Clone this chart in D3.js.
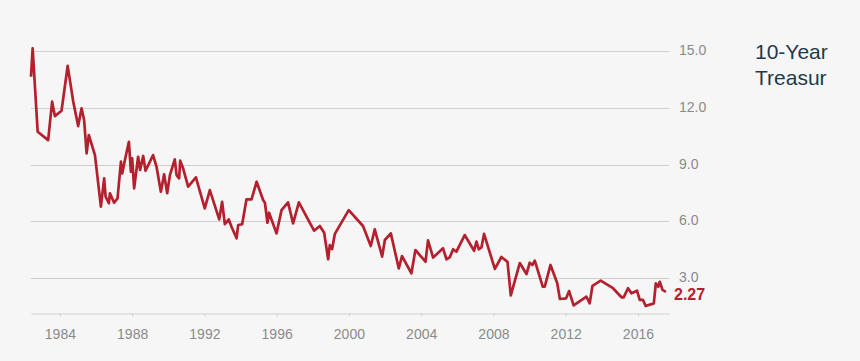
<!DOCTYPE html>
<html>
<head>
<meta charset="utf-8">
<script src="https://cdn.jsdelivr.net/npm/d3@7"></script>
<style>
  html, body { margin: 0; padding: 0; background: #f6f6f6; }
  svg { display: block; }
</style>
</head>
<body>
<svg id="chart" width="860" height="361"></svg>
<script>
const years = [
  1982.40, 1982.49, 1982.77, 1983.35, 1983.57, 1983.72, 1984.09, 1984.43, 1984.74, 1985.01,
  1985.20, 1985.34, 1985.48, 1985.60, 1985.94, 1986.27, 1986.45, 1986.53, 1986.71, 1986.77,
  1987.00, 1987.19, 1987.38, 1987.45, 1987.60, 1987.82, 1987.93, 1988.00, 1988.11, 1988.33,
  1988.44, 1988.61, 1988.74, 1989.16, 1989.35, 1989.59, 1989.77, 1989.94, 1990.09, 1990.36,
  1990.46, 1990.60, 1990.66, 1990.82, 1991.10, 1991.53, 1992.02, 1992.30, 1992.82, 1992.98,
  1993.13, 1993.35, 1993.50, 1993.78, 1993.87, 1994.09, 1994.33, 1994.61, 1994.89, 1995.25,
  1995.35, 1995.49, 1995.58, 1995.99, 1996.27, 1996.63, 1996.91, 1997.23, 1998.07, 1998.39,
  1998.63, 1998.85, 1998.94, 1999.07, 1999.22, 1999.99, 2000.78, 2001.21, 2001.43, 2001.84,
  2001.99, 2002.32, 2002.76, 2002.94, 2003.46, 2003.68, 2004.24, 2004.38, 2004.66, 2005.21,
  2005.40, 2005.58, 2005.77, 2005.95, 2006.41, 2006.93, 2007.06, 2007.19, 2007.34, 2007.48,
  2008.08, 2008.44, 2008.78, 2008.96, 2009.46, 2009.83, 2010.01, 2010.16, 2010.29, 2010.73,
  2010.84, 2011.16, 2011.53, 2011.68, 2012.02, 2012.19, 2012.44, 2013.15, 2013.33, 2013.48,
  2013.94, 2014.62, 2015.09, 2015.21, 2015.45, 2015.64, 2015.95, 2016.10, 2016.28, 2016.43,
  2016.88, 2016.99, 2017.12, 2017.21, 2017.36, 2017.55
];
const yields = [
  13.64, 15.14, 10.73, 10.29, 12.32, 11.56, 11.84, 14.21, 12.32, 11.03,
  11.97, 11.35, 9.59, 10.56, 9.50, 6.77, 8.27, 7.30, 6.95, 7.48,
  6.98, 7.21, 9.15, 8.53, 9.24, 10.20, 8.62, 9.33, 7.74, 9.41,
  8.71, 9.45, 8.67, 9.50, 8.88, 7.56, 8.48, 7.48, 8.44, 9.27,
  8.44, 8.27, 9.20, 8.80, 7.83, 8.32, 6.68, 7.65, 6.10, 7.03,
  5.85, 6.10, 5.71, 5.10, 5.80, 5.84, 7.16, 7.16, 8.09, 7.12,
  6.98, 5.92, 6.45, 5.36, 6.59, 7.00, 5.89, 7.00, 5.50, 5.75,
  5.39, 3.99, 4.74, 4.53, 5.33, 6.59, 5.75, 4.69, 5.57, 4.13,
  5.01, 5.36, 3.51, 4.16, 3.25, 4.48, 3.86, 4.99, 4.08, 4.57,
  3.99, 4.09, 4.52, 4.39, 5.27, 4.44, 4.92, 4.52, 4.62, 5.33,
  3.48, 4.11, 3.85, 2.08, 3.79, 3.21, 3.81, 3.69, 3.92, 2.54,
  2.54, 3.69, 2.74, 1.89, 1.92, 2.31, 1.55, 2.01, 1.66, 2.58,
  2.86, 2.46, 1.98, 1.98, 2.46, 2.19, 2.33, 1.84, 1.84, 1.52,
  1.66, 2.72, 2.54, 2.80, 2.37, 2.27
];
const yTickValues = [3, 6, 9, 12, 15];
const xTickValues = [1984, 1988, 1992, 1996, 2000, 2004, 2008, 2012, 2016];
const titleLines = ["10-Year", "Treasur"];
const lastLabel = "2.27";

const svg = d3.select("#chart");
const left = 31, right = 669, bottom = 313;

const x = d3.scaleLinear().domain([1982.4, 2017.72]).range([left, right]);
const y = d3.scaleLinear().domain([3, 15]).range([278, 51]);

// gridlines
svg.append("g").selectAll("line").data(yTickValues).join("line")
  .attr("x1", left).attr("x2", right)
  .attr("y1", d => Math.round(y(d)) + 0.5).attr("y2", d => Math.round(y(d)) + 0.5)
  .attr("stroke", "#cfcfcf").attr("stroke-width", 1);

// y tick labels
svg.append("g").selectAll("text").data(yTickValues).join("text")
  .attr("x", 679).attr("y", d => y(d) + 4)
  .attr("font-family", "Liberation Sans, Arial, sans-serif")
  .attr("font-size", 14).attr("fill", "#8a8a8a")
  .text(d => d3.format(".1f")(d));

// x axis
const xAxis = d3.axisBottom(x).tickValues(xTickValues).tickFormat(d3.format("d")).tickSize(3).tickSizeOuter(0);
const gx = svg.append("g").attr("transform", `translate(0,${bottom + 0.5})`).call(xAxis);
gx.select(".domain").attr("stroke", "#cfcfcf");
gx.selectAll(".tick line").attr("stroke", "#cfcfcf");
gx.selectAll(".tick text")
  .attr("font-family", "Liberation Sans, Arial, sans-serif")
  .attr("font-size", 14).attr("fill", "#8a8a8a").attr("dy", null).attr("y", 25);

// line
const data = years.map((yr, i) => ({ yr, v: yields[i] }));
svg.append("path").datum(data)
  .attr("fill", "none").attr("stroke", "#b5202e").attr("stroke-width", 2.7)
  .attr("stroke-linejoin", "round")
  .attr("d", d3.line().x(d => x(d.yr)).y(d => y(d.v)));

// last value label
svg.append("text")
  .attr("x", 674).attr("y", y(yields[yields.length - 1]) + 8)
  .attr("font-family", "Liberation Sans, Arial, sans-serif")
  .attr("font-size", 16).attr("font-weight", "bold").attr("fill", "#b5202e")
  .text(lastLabel);

// title
svg.append("g").selectAll("text").data(titleLines).join("text")
  .attr("x", 755).attr("y", (d, i) => 58.5 + i * 26.5)
  .attr("font-family", "Liberation Sans, Arial, sans-serif")
  .attr("font-size", 21).attr("fill", "#1f3a4b")
  .text(d => d);
</script>
</body>
</html>
